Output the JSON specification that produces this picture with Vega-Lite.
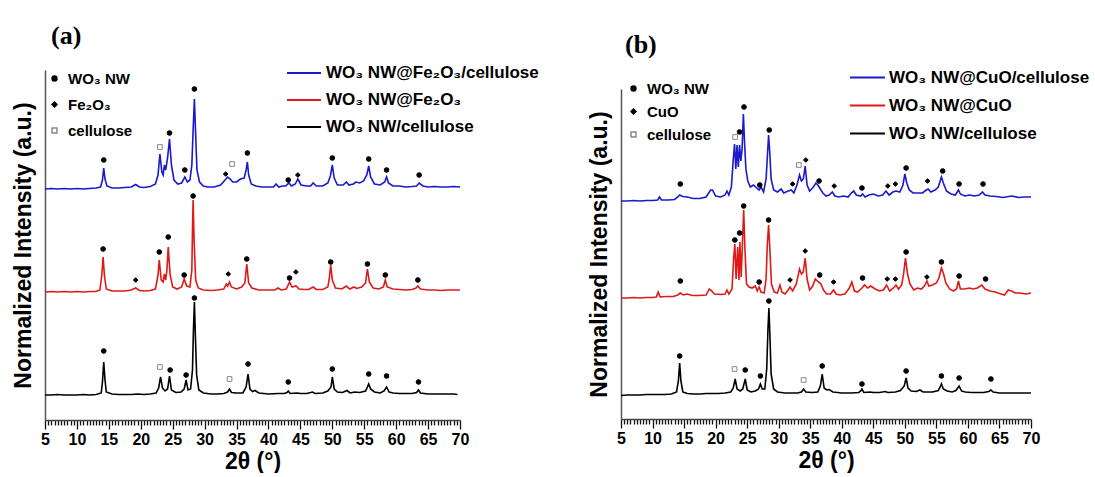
{
"$schema": "https://vega.github.io/schema/vega-lite/v6.json",
"padding": {"left": 12, "top": 23, "right": 0, "bottom": 0},
"spacing": 49,
"resolve": {"scale": {"x": "independent", "y": "independent", "color": "independent", "shape": "independent", "fill": "independent", "stroke": "independent"}, "legend": {"color": "independent", "shape": "independent", "fill": "independent", "stroke": "independent"}},
"config": {"view": {"stroke": null}, "font": "Liberation Sans", "axis": {"grid": false}},
"datasets": {
"a": [
{"s":"c","x":5,"y":231},{"s":"c","x":6,"y":231.5},{"s":"c","x":7,"y":231},{"s":"c","x":8,"y":231.5},{"s":"c","x":9,"y":231},{"s":"c","x":10,"y":231.5},{"s":"c","x":11,"y":231},{"s":"c","x":12,"y":231.5},{"s":"c","x":13,"y":232},{"s":"c","x":13.7,"y":233},{"s":"c","x":14.0,"y":240},{"s":"c","x":14.2,"y":252},{"s":"c","x":14.4,"y":241},{"s":"c","x":14.7,"y":234},{"s":"c","x":15.5,"y":232},{"s":"c","x":16.5,"y":232},{"s":"c","x":17.5,"y":232.5},{"s":"c","x":18.5,"y":233},{"s":"c","x":19.2,"y":235.5},{"s":"c","x":19.8,"y":233},{"s":"c","x":20.5,"y":232.5},{"s":"c","x":21.5,"y":233.5},{"s":"c","x":22.3,"y":236},{"s":"c","x":22.7,"y":245},{"s":"c","x":23.0,"y":266},{"s":"c","x":23.3,"y":248},{"s":"c","x":23.5,"y":245},{"s":"c","x":23.7,"y":255},{"s":"c","x":23.9,"y":250},{"s":"c","x":24.2,"y":262},{"s":"c","x":24.5,"y":281},{"s":"c","x":24.8,"y":255},{"s":"c","x":25.2,"y":240},{"s":"c","x":25.8,"y":236},{"s":"c","x":26.4,"y":237},{"s":"c","x":26.9,"y":243},{"s":"c","x":27.3,"y":238},{"s":"c","x":27.7,"y":240},{"s":"c","x":28.0,"y":255},{"s":"c","x":28.2,"y":290},{"s":"c","x":28.4,"y":321},{"s":"c","x":28.6,"y":285},{"s":"c","x":28.8,"y":250},{"s":"c","x":29.2,"y":238},{"s":"c","x":29.8,"y":234},{"s":"c","x":30.5,"y":233},{"s":"c","x":31.5,"y":233},{"s":"c","x":32.5,"y":235},{"s":"c","x":33.2,"y":240},{"s":"c","x":33.6,"y":243},{"s":"c","x":34.0,"y":241},{"s":"c","x":34.4,"y":238},{"s":"c","x":35.0,"y":238},{"s":"c","x":35.6,"y":241},{"s":"c","x":36.2,"y":242},{"s":"c","x":36.5,"y":250},{"s":"c","x":36.7,"y":258},{"s":"c","x":36.9,"y":245},{"s":"c","x":37.3,"y":236},{"s":"c","x":38,"y":234},{"s":"c","x":39,"y":233},{"s":"c","x":40,"y":233},{"s":"c","x":40.8,"y":233},{"s":"c","x":41.2,"y":236},{"s":"c","x":41.6,"y":233},{"s":"c","x":42.2,"y":234},{"s":"c","x":42.7,"y":234},{"s":"c","x":43.2,"y":237},{"s":"c","x":43.6,"y":234},{"s":"c","x":44.2,"y":236},{"s":"c","x":44.6,"y":241},{"s":"c","x":45.1,"y":235},{"s":"c","x":46,"y":234},{"s":"c","x":46.6,"y":234},{"s":"c","x":47.0,"y":237},{"s":"c","x":47.5,"y":234},{"s":"c","x":48.5,"y":234},{"s":"c","x":49.3,"y":237},{"s":"c","x":49.7,"y":244},{"s":"c","x":50.0,"y":255},{"s":"c","x":50.3,"y":242},{"s":"c","x":50.8,"y":235},{"s":"c","x":51.7,"y":235},{"s":"c","x":52.2,"y":238},{"s":"c","x":52.6,"y":235},{"s":"c","x":53.3,"y":236},{"s":"c","x":53.7,"y":238},{"s":"c","x":54.3,"y":237},{"s":"c","x":54.9,"y":239},{"s":"c","x":55.4,"y":245},{"s":"c","x":55.7,"y":254},{"s":"c","x":56.0,"y":243},{"s":"c","x":56.6,"y":236},{"s":"c","x":57.5,"y":235},{"s":"c","x":58.2,"y":238},{"s":"c","x":58.5,"y":243},{"s":"c","x":58.8,"y":237},{"s":"c","x":59.5,"y":234},{"s":"c","x":60.5,"y":234},{"s":"c","x":61.5,"y":233},{"s":"c","x":62.5,"y":233.5},{"s":"c","x":63.2,"y":234},{"s":"c","x":63.6,"y":237},{"s":"c","x":64.2,"y":234},{"s":"c","x":65,"y":233},{"s":"c","x":66,"y":233.5},{"s":"c","x":67,"y":233},{"s":"c","x":68,"y":233},{"s":"c","x":69,"y":233.5},{"s":"c","x":70,"y":233},
{"s":"f","x":5,"y":128},{"s":"f","x":6,"y":128.5},{"s":"f","x":7,"y":128},{"s":"f","x":8,"y":128.5},{"s":"f","x":9,"y":128},{"s":"f","x":10,"y":128.5},{"s":"f","x":11,"y":128},{"s":"f","x":12,"y":128.5},{"s":"f","x":13,"y":128.5},{"s":"f","x":13.6,"y":130},{"s":"f","x":13.9,"y":145},{"s":"f","x":14.1,"y":163},{"s":"f","x":14.3,"y":145},{"s":"f","x":14.6,"y":131},{"s":"f","x":15.5,"y":129},{"s":"f","x":16.5,"y":129},{"s":"f","x":17.5,"y":129},{"s":"f","x":18.5,"y":130},{"s":"f","x":19.2,"y":132},{"s":"f","x":19.8,"y":129.5},{"s":"f","x":20.5,"y":129},{"s":"f","x":21.5,"y":129.5},{"s":"f","x":22.3,"y":131},{"s":"f","x":22.7,"y":145},{"s":"f","x":22.9,"y":160},{"s":"f","x":23.2,"y":140},{"s":"f","x":23.5,"y":138},{"s":"f","x":23.7,"y":146},{"s":"f","x":23.9,"y":140},{"s":"f","x":24.1,"y":150},{"s":"f","x":24.3,"y":173},{"s":"f","x":24.6,"y":145},{"s":"f","x":25.0,"y":133},{"s":"f","x":25.7,"y":131},{"s":"f","x":26.4,"y":133},{"s":"f","x":26.8,"y":141},{"s":"f","x":27.2,"y":134},{"s":"f","x":27.7,"y":133},{"s":"f","x":28.0,"y":150},{"s":"f","x":28.1,"y":190},{"s":"f","x":28.2,"y":220},{"s":"f","x":28.35,"y":180},{"s":"f","x":28.6,"y":140},{"s":"f","x":29.0,"y":132},{"s":"f","x":29.8,"y":130},{"s":"f","x":31,"y":129.5},{"s":"f","x":32,"y":130},{"s":"f","x":33.0,"y":131},{"s":"f","x":33.4,"y":136},{"s":"f","x":33.6,"y":134},{"s":"f","x":33.9,"y":138},{"s":"f","x":34.2,"y":133},{"s":"f","x":35,"y":131},{"s":"f","x":35.8,"y":133},{"s":"f","x":36.3,"y":137},{"s":"f","x":36.6,"y":156},{"s":"f","x":36.9,"y":137},{"s":"f","x":37.4,"y":132},{"s":"f","x":38.5,"y":130},{"s":"f","x":40,"y":130},{"s":"f","x":41.0,"y":130},{"s":"f","x":41.5,"y":132},{"s":"f","x":42,"y":130},{"s":"f","x":42.8,"y":131},{"s":"f","x":43.3,"y":138},{"s":"f","x":43.7,"y":133},{"s":"f","x":44.3,"y":134},{"s":"f","x":44.8,"y":131},{"s":"f","x":45.5,"y":130.5},{"s":"f","x":46.3,"y":130.5},{"s":"f","x":47.0,"y":133},{"s":"f","x":47.5,"y":130.5},{"s":"f","x":48.5,"y":130.5},{"s":"f","x":49.3,"y":133},{"s":"f","x":49.5,"y":140},{"s":"f","x":49.75,"y":155},{"s":"f","x":50.0,"y":140},{"s":"f","x":50.5,"y":132},{"s":"f","x":51.5,"y":131},{"s":"f","x":52.2,"y":134},{"s":"f","x":52.7,"y":131},{"s":"f","x":53.4,"y":133},{"s":"f","x":53.8,"y":131.5},{"s":"f","x":54.6,"y":133},{"s":"f","x":55.2,"y":137},{"s":"f","x":55.5,"y":151},{"s":"f","x":55.8,"y":138},{"s":"f","x":56.4,"y":132},{"s":"f","x":57.3,"y":131},{"s":"f","x":58.0,"y":133},{"s":"f","x":58.3,"y":140},{"s":"f","x":58.6,"y":133},{"s":"f","x":59.5,"y":131},{"s":"f","x":60.5,"y":130.5},{"s":"f","x":61.5,"y":130},{"s":"f","x":62.5,"y":130.5},{"s":"f","x":63.1,"y":132},{"s":"f","x":63.4,"y":134},{"s":"f","x":63.8,"y":131},{"s":"f","x":65,"y":130},{"s":"f","x":66,"y":130},{"s":"f","x":67,"y":129.5},{"s":"f","x":68,"y":130},{"s":"f","x":69,"y":130},{"s":"f","x":70,"y":130},
{"s":"n","x":5,"y":25},{"s":"n","x":6,"y":25},{"s":"n","x":7,"y":25.5},{"s":"n","x":8,"y":25},{"s":"n","x":9,"y":25},{"s":"n","x":10,"y":25},{"s":"n","x":11,"y":25.5},{"s":"n","x":12,"y":25},{"s":"n","x":13,"y":25.5},{"s":"n","x":13.8,"y":27},{"s":"n","x":14.0,"y":38},{"s":"n","x":14.2,"y":58},{"s":"n","x":14.4,"y":40},{"s":"n","x":14.6,"y":28},{"s":"n","x":15.5,"y":26},{"s":"n","x":16.5,"y":25.5},{"s":"n","x":17.5,"y":25.5},{"s":"n","x":18.5,"y":25.5},{"s":"n","x":19.5,"y":26},{"s":"n","x":20.5,"y":25.5},{"s":"n","x":21.5,"y":26},{"s":"n","x":22.4,"y":27},{"s":"n","x":22.8,"y":32},{"s":"n","x":23.1,"y":43},{"s":"n","x":23.4,"y":32},{"s":"n","x":23.8,"y":29},{"s":"n","x":24.2,"y":31},{"s":"n","x":24.5,"y":44},{"s":"n","x":24.8,"y":30},{"s":"n","x":25.5,"y":27.5},{"s":"n","x":26.3,"y":28},{"s":"n","x":26.8,"y":31},{"s":"n","x":27.1,"y":40},{"s":"n","x":27.4,"y":30},{"s":"n","x":27.8,"y":31},{"s":"n","x":28.1,"y":50},{"s":"n","x":28.25,"y":90},{"s":"n","x":28.4,"y":118},{"s":"n","x":28.55,"y":85},{"s":"n","x":28.75,"y":45},{"s":"n","x":29.1,"y":30},{"s":"n","x":29.8,"y":27},{"s":"n","x":31,"y":26},{"s":"n","x":32,"y":26},{"s":"n","x":33,"y":26.5},{"s":"n","x":33.6,"y":28},{"s":"n","x":33.9,"y":31},{"s":"n","x":34.2,"y":27.5},{"s":"n","x":35,"y":27},{"s":"n","x":36,"y":27},{"s":"n","x":36.5,"y":33},{"s":"n","x":36.8,"y":46},{"s":"n","x":37.1,"y":31},{"s":"n","x":37.5,"y":28.5},{"s":"n","x":37.9,"y":29.5},{"s":"n","x":38.5,"y":27},{"s":"n","x":40,"y":26},{"s":"n","x":41.5,"y":26.5},{"s":"n","x":42.5,"y":26.5},{"s":"n","x":42.9,"y":27.5},{"s":"n","x":43.1,"y":29},{"s":"n","x":43.4,"y":26.5},{"s":"n","x":44.5,"y":27},{"s":"n","x":45,"y":26.5},{"s":"n","x":46,"y":26.5},{"s":"n","x":46.9,"y":28},{"s":"n","x":47.3,"y":26.5},{"s":"n","x":48.5,"y":27},{"s":"n","x":49.3,"y":29},{"s":"n","x":49.8,"y":33},{"s":"n","x":50.0,"y":43},{"s":"n","x":50.3,"y":31},{"s":"n","x":50.8,"y":28},{"s":"n","x":51.6,"y":27.5},{"s":"n","x":52.3,"y":29.5},{"s":"n","x":52.8,"y":27},{"s":"n","x":53.5,"y":28},{"s":"n","x":54.3,"y":27.5},{"s":"n","x":55.2,"y":29},{"s":"n","x":55.5,"y":33},{"s":"n","x":55.7,"y":36},{"s":"n","x":56.0,"y":31},{"s":"n","x":56.6,"y":28},{"s":"n","x":57.5,"y":27},{"s":"n","x":58.1,"y":29},{"s":"n","x":58.5,"y":33},{"s":"n","x":58.9,"y":28},{"s":"n","x":59.5,"y":27},{"s":"n","x":60.5,"y":26.5},{"s":"n","x":61.5,"y":26.5},{"s":"n","x":62.5,"y":26.5},{"s":"n","x":63.2,"y":27.5},{"s":"n","x":63.5,"y":30},{"s":"n","x":63.8,"y":27},{"s":"n","x":65,"y":26},{"s":"n","x":66,"y":26},{"s":"n","x":67,"y":26},{"s":"n","x":68,"y":26},{"s":"n","x":69,"y":26},{"s":"n","x":69.6,"y":25.5}
],
"am": [
{"p":"WO₃ NW","x":14.2,"y":260},{"p":"cellulose","x":23.0,"y":273},{"p":"WO₃ NW","x":24.5,"y":287},{"p":"WO₃ NW","x":26.9,"y":250},{"p":"WO₃ NW","x":28.4,"y":331},{"p":"Fe₂O₃","x":33.3,"y":246},{"p":"cellulose","x":34.3,"y":256},{"p":"WO₃ NW","x":36.7,"y":267},{"p":"WO₃ NW","x":43.1,"y":240},{"p":"Fe₂O₃","x":44.6,"y":245},{"p":"WO₃ NW","x":50.0,"y":262},{"p":"WO₃ NW","x":55.7,"y":261},{"p":"WO₃ NW","x":58.5,"y":250},{"p":"WO₃ NW","x":63.6,"y":245},
{"p":"WO₃ NW","x":14.1,"y":171},{"p":"Fe₂O₃","x":19.2,"y":140},{"p":"WO₃ NW","x":22.9,"y":168},{"p":"WO₃ NW","x":24.3,"y":183},{"p":"WO₃ NW","x":26.8,"y":145},{"p":"WO₃ NW","x":28.2,"y":224},{"p":"Fe₂O₃","x":33.7,"y":146},{"p":"WO₃ NW","x":36.6,"y":161},{"p":"WO₃ NW","x":43.3,"y":142},{"p":"Fe₂O₃","x":44.3,"y":148},{"p":"WO₃ NW","x":49.75,"y":158},{"p":"WO₃ NW","x":55.5,"y":156},{"p":"WO₃ NW","x":58.3,"y":145},{"p":"WO₃ NW","x":63.4,"y":140},
{"p":"WO₃ NW","x":14.2,"y":69},{"p":"cellulose","x":23.0,"y":53},{"p":"WO₃ NW","x":24.6,"y":50},{"p":"WO₃ NW","x":27.1,"y":45},{"p":"WO₃ NW","x":28.4,"y":122},{"p":"cellulose","x":33.9,"y":41},{"p":"WO₃ NW","x":36.8,"y":56},{"p":"WO₃ NW","x":43.1,"y":38},{"p":"WO₃ NW","x":50.0,"y":51},{"p":"WO₃ NW","x":55.7,"y":46},{"p":"WO₃ NW","x":58.5,"y":44},{"p":"WO₃ NW","x":63.5,"y":38}
],
"b": [
{"s":"c","x":5,"y":218},{"s":"c","x":6,"y":218},{"s":"c","x":7,"y":218.5},{"s":"c","x":8,"y":218},{"s":"c","x":9,"y":218.5},{"s":"c","x":10,"y":218.5},{"s":"c","x":10.8,"y":219},{"s":"c","x":11.1,"y":222},{"s":"c","x":11.4,"y":219},{"s":"c","x":12.5,"y":219},{"s":"c","x":13.5,"y":219.5},{"s":"c","x":14.0,"y":222},{"s":"c","x":14.3,"y":224},{"s":"c","x":14.8,"y":222.5},{"s":"c","x":15.5,"y":222},{"s":"c","x":16.5,"y":220.5},{"s":"c","x":17.5,"y":220.5},{"s":"c","x":18.5,"y":222},{"s":"c","x":19.2,"y":229},{"s":"c","x":19.5,"y":229},{"s":"c","x":20,"y":223},{"s":"c","x":20.8,"y":222},{"s":"c","x":21.5,"y":224},{"s":"c","x":21.8,"y":228},{"s":"c","x":22.1,"y":224},{"s":"c","x":22.5,"y":232},{"s":"c","x":22.8,"y":260},{"s":"c","x":23.0,"y":275},{"s":"c","x":23.2,"y":250},{"s":"c","x":23.4,"y":274},{"s":"c","x":23.6,"y":252},{"s":"c","x":23.8,"y":274},{"s":"c","x":24.0,"y":258},{"s":"c","x":24.2,"y":270},{"s":"c","x":24.4,"y":305},{"s":"c","x":24.6,"y":275},{"s":"c","x":24.8,"y":250},{"s":"c","x":25.1,"y":238},{"s":"c","x":25.5,"y":232},{"s":"c","x":26.0,"y":234},{"s":"c","x":26.5,"y":231},{"s":"c","x":26.9,"y":229},{"s":"c","x":27.2,"y":232},{"s":"c","x":27.6,"y":227},{"s":"c","x":28.0,"y":240},{"s":"c","x":28.2,"y":262},{"s":"c","x":28.4,"y":284},{"s":"c","x":28.6,"y":265},{"s":"c","x":28.8,"y":240},{"s":"c","x":29.2,"y":229},{"s":"c","x":29.8,"y":227},{"s":"c","x":30.4,"y":230},{"s":"c","x":30.8,"y":226},{"s":"c","x":31.5,"y":228},{"s":"c","x":32.0,"y":229},{"s":"c","x":32.4,"y":226},{"s":"c","x":32.9,"y":234},{"s":"c","x":33.3,"y":244},{"s":"c","x":33.6,"y":238},{"s":"c","x":33.9,"y":240},{"s":"c","x":34.2,"y":253},{"s":"c","x":34.5,"y":234},{"s":"c","x":34.9,"y":228},{"s":"c","x":35.5,"y":232},{"s":"c","x":35.9,"y":236},{"s":"c","x":36.2,"y":234},{"s":"c","x":36.5,"y":231},{"s":"c","x":37.0,"y":226},{"s":"c","x":37.5,"y":223},{"s":"c","x":38.0,"y":224},{"s":"c","x":38.5,"y":227},{"s":"c","x":38.9,"y":223},{"s":"c","x":39.5,"y":222},{"s":"c","x":40.3,"y":223},{"s":"c","x":41.0,"y":222},{"s":"c","x":41.5,"y":226},{"s":"c","x":41.9,"y":228},{"s":"c","x":42.3,"y":224},{"s":"c","x":43.0,"y":223},{"s":"c","x":43.3,"y":225},{"s":"c","x":43.7,"y":222},{"s":"c","x":44.3,"y":224},{"s":"c","x":45.0,"y":225},{"s":"c","x":45.8,"y":223},{"s":"c","x":46.5,"y":224},{"s":"c","x":47.0,"y":228},{"s":"c","x":47.5,"y":224},{"s":"c","x":48.1,"y":227},{"s":"c","x":48.6,"y":228},{"s":"c","x":49.2,"y":227},{"s":"c","x":49.7,"y":234},{"s":"c","x":50.0,"y":245},{"s":"c","x":50.3,"y":236},{"s":"c","x":50.7,"y":229},{"s":"c","x":51.3,"y":226},{"s":"c","x":52,"y":226},{"s":"c","x":52.8,"y":226},{"s":"c","x":53.4,"y":229},{"s":"c","x":53.7,"y":230},{"s":"c","x":54.1,"y":227},{"s":"c","x":54.8,"y":229},{"s":"c","x":55.3,"y":232},{"s":"c","x":55.8,"y":242},{"s":"c","x":56.1,"y":236},{"s":"c","x":56.6,"y":228},{"s":"c","x":57.3,"y":225},{"s":"c","x":58.0,"y":224},{"s":"c","x":58.5,"y":229},{"s":"c","x":58.8,"y":225},{"s":"c","x":59.5,"y":223},{"s":"c","x":60.3,"y":224},{"s":"c","x":61.0,"y":223},{"s":"c","x":61.8,"y":224},{"s":"c","x":62.3,"y":227},{"s":"c","x":62.7,"y":224},{"s":"c","x":63.5,"y":223},{"s":"c","x":64.5,"y":222.5},{"s":"c","x":65.5,"y":221.5},{"s":"c","x":66.5,"y":222.5},{"s":"c","x":67,"y":223},{"s":"c","x":68,"y":221.5},{"s":"c","x":69,"y":222},{"s":"c","x":70,"y":222},
{"s":"f","x":5,"y":121},{"s":"f","x":6,"y":121},{"s":"f","x":7,"y":121.5},{"s":"f","x":8,"y":121},{"s":"f","x":9,"y":121.5},{"s":"f","x":10,"y":121.5},{"s":"f","x":10.6,"y":122},{"s":"f","x":10.9,"y":127},{"s":"f","x":11.2,"y":122},{"s":"f","x":12.2,"y":122.5},{"s":"f","x":13.3,"y":122.5},{"s":"f","x":14.0,"y":124},{"s":"f","x":14.4,"y":126},{"s":"f","x":14.9,"y":124},{"s":"f","x":15.5,"y":125},{"s":"f","x":16.3,"y":123.5},{"s":"f","x":17.3,"y":123.5},{"s":"f","x":18.5,"y":124},{"s":"f","x":19.0,"y":130},{"s":"f","x":19.4,"y":128},{"s":"f","x":19.8,"y":125},{"s":"f","x":20.8,"y":124.5},{"s":"f","x":21.5,"y":125},{"s":"f","x":21.8,"y":129},{"s":"f","x":22.1,"y":125},{"s":"f","x":22.6,"y":130},{"s":"f","x":22.85,"y":160},{"s":"f","x":23.05,"y":175},{"s":"f","x":23.25,"y":140},{"s":"f","x":23.5,"y":172},{"s":"f","x":23.7,"y":139},{"s":"f","x":23.85,"y":177},{"s":"f","x":24.05,"y":142},{"s":"f","x":24.25,"y":175},{"s":"f","x":24.45,"y":209},{"s":"f","x":24.65,"y":170},{"s":"f","x":24.9,"y":135},{"s":"f","x":25.3,"y":132},{"s":"f","x":25.8,"y":131},{"s":"f","x":26.3,"y":133},{"s":"f","x":26.6,"y":128},{"s":"f","x":26.9,"y":132},{"s":"f","x":27.2,"y":127},{"s":"f","x":27.7,"y":126},{"s":"f","x":28.0,"y":140},{"s":"f","x":28.2,"y":175},{"s":"f","x":28.4,"y":194},{"s":"f","x":28.6,"y":170},{"s":"f","x":28.85,"y":135},{"s":"f","x":29.3,"y":127},{"s":"f","x":29.8,"y":126},{"s":"f","x":30.2,"y":134},{"s":"f","x":30.5,"y":127},{"s":"f","x":31.0,"y":125},{"s":"f","x":31.5,"y":129},{"s":"f","x":31.8,"y":132},{"s":"f","x":32.2,"y":128},{"s":"f","x":32.8,"y":135},{"s":"f","x":33.3,"y":150},{"s":"f","x":33.6,"y":145},{"s":"f","x":33.9,"y":147},{"s":"f","x":34.2,"y":161},{"s":"f","x":34.5,"y":140},{"s":"f","x":34.9,"y":129},{"s":"f","x":35.4,"y":133},{"s":"f","x":35.8,"y":140},{"s":"f","x":36.3,"y":137},{"s":"f","x":36.7,"y":135},{"s":"f","x":37.1,"y":129},{"s":"f","x":37.6,"y":125},{"s":"f","x":38.2,"y":125},{"s":"f","x":38.7,"y":129},{"s":"f","x":39.1,"y":125},{"s":"f","x":39.7,"y":124},{"s":"f","x":40.5,"y":125},{"s":"f","x":41.2,"y":131},{"s":"f","x":41.6,"y":137},{"s":"f","x":42.0,"y":128},{"s":"f","x":42.5,"y":127},{"s":"f","x":43.2,"y":131},{"s":"f","x":43.6,"y":134},{"s":"f","x":44.1,"y":131},{"s":"f","x":44.6,"y":133},{"s":"f","x":45.3,"y":130},{"s":"f","x":46.0,"y":128},{"s":"f","x":46.6,"y":129},{"s":"f","x":47.1,"y":134},{"s":"f","x":47.6,"y":128},{"s":"f","x":48.2,"y":131},{"s":"f","x":48.6,"y":134},{"s":"f","x":49.0,"y":130},{"s":"f","x":49.5,"y":134},{"s":"f","x":49.8,"y":145},{"s":"f","x":50.1,"y":161},{"s":"f","x":50.4,"y":146},{"s":"f","x":50.8,"y":135},{"s":"f","x":51.4,"y":129},{"s":"f","x":52,"y":131},{"s":"f","x":52.6,"y":130},{"s":"f","x":53.1,"y":133},{"s":"f","x":53.5,"y":138},{"s":"f","x":53.8,"y":133},{"s":"f","x":54.4,"y":134},{"s":"f","x":55.0,"y":136},{"s":"f","x":55.4,"y":141},{"s":"f","x":55.8,"y":151},{"s":"f","x":56.1,"y":146},{"s":"f","x":56.5,"y":136},{"s":"f","x":57.1,"y":130},{"s":"f","x":57.7,"y":128},{"s":"f","x":58.2,"y":130},{"s":"f","x":58.5,"y":138},{"s":"f","x":58.8,"y":130},{"s":"f","x":59.5,"y":130},{"s":"f","x":60.2,"y":131},{"s":"f","x":60.8,"y":130},{"s":"f","x":61.5,"y":131},{"s":"f","x":62.2,"y":134},{"s":"f","x":62.7,"y":130},{"s":"f","x":63.5,"y":128},{"s":"f","x":64.3,"y":127},{"s":"f","x":65,"y":125.5},{"s":"f","x":65.8,"y":124},{"s":"f","x":66.4,"y":129},{"s":"f","x":66.9,"y":128},{"s":"f","x":67.5,"y":126},{"s":"f","x":68.3,"y":126},{"s":"f","x":69.2,"y":125},{"s":"f","x":70,"y":126},
{"s":"n","x":5,"y":23.5},{"s":"n","x":6,"y":24},{"s":"n","x":7,"y":24},{"s":"n","x":8,"y":24},{"s":"n","x":9,"y":24.5},{"s":"n","x":10,"y":24.5},{"s":"n","x":11,"y":24.5},{"s":"n","x":12,"y":24.5},{"s":"n","x":13,"y":25},{"s":"n","x":13.8,"y":27},{"s":"n","x":14.1,"y":38},{"s":"n","x":14.3,"y":56},{"s":"n","x":14.5,"y":38},{"s":"n","x":14.8,"y":27},{"s":"n","x":15.5,"y":25.5},{"s":"n","x":16.5,"y":25},{"s":"n","x":17.5,"y":25},{"s":"n","x":18.5,"y":25.5},{"s":"n","x":19.5,"y":25.5},{"s":"n","x":20.5,"y":25.5},{"s":"n","x":21.5,"y":26},{"s":"n","x":22.4,"y":27},{"s":"n","x":22.8,"y":31},{"s":"n","x":23.1,"y":40},{"s":"n","x":23.4,"y":30},{"s":"n","x":23.9,"y":28},{"s":"n","x":24.3,"y":30},{"s":"n","x":24.7,"y":40},{"s":"n","x":25.0,"y":29},{"s":"n","x":25.6,"y":27},{"s":"n","x":26.3,"y":28},{"s":"n","x":26.8,"y":30},{"s":"n","x":27.1,"y":35},{"s":"n","x":27.4,"y":30},{"s":"n","x":27.8,"y":30},{"s":"n","x":28.1,"y":50},{"s":"n","x":28.3,"y":90},{"s":"n","x":28.45,"y":111},{"s":"n","x":28.6,"y":85},{"s":"n","x":28.8,"y":45},{"s":"n","x":29.2,"y":30},{"s":"n","x":29.8,"y":27},{"s":"n","x":31,"y":26},{"s":"n","x":32,"y":26},{"s":"n","x":33,"y":26},{"s":"n","x":33.6,"y":27},{"s":"n","x":33.95,"y":30},{"s":"n","x":34.3,"y":27},{"s":"n","x":35.3,"y":26.5},{"s":"n","x":36.2,"y":27},{"s":"n","x":36.6,"y":33},{"s":"n","x":36.9,"y":45},{"s":"n","x":37.2,"y":31},{"s":"n","x":37.6,"y":29},{"s":"n","x":38,"y":29.5},{"s":"n","x":38.6,"y":27},{"s":"n","x":40,"y":26},{"s":"n","x":41.5,"y":26},{"s":"n","x":42.7,"y":26.5},{"s":"n","x":43.0,"y":28},{"s":"n","x":43.2,"y":30},{"s":"n","x":43.5,"y":26.5},{"s":"n","x":44.5,"y":27},{"s":"n","x":45,"y":26.5},{"s":"n","x":46,"y":26.5},{"s":"n","x":46.9,"y":27.5},{"s":"n","x":47.3,"y":26.5},{"s":"n","x":48.5,"y":27},{"s":"n","x":49.3,"y":28.5},{"s":"n","x":49.9,"y":33},{"s":"n","x":50.2,"y":41},{"s":"n","x":50.5,"y":31},{"s":"n","x":51,"y":28},{"s":"n","x":51.8,"y":27.5},{"s":"n","x":52.4,"y":29},{"s":"n","x":52.9,"y":27},{"s":"n","x":53.5,"y":27},{"s":"n","x":54.4,"y":27},{"s":"n","x":55.3,"y":28.5},{"s":"n","x":55.6,"y":32},{"s":"n","x":55.8,"y":35},{"s":"n","x":56.1,"y":30},{"s":"n","x":56.7,"y":28},{"s":"n","x":57.5,"y":27},{"s":"n","x":58.1,"y":28.5},{"s":"n","x":58.6,"y":33},{"s":"n","x":59.0,"y":28},{"s":"n","x":59.6,"y":27},{"s":"n","x":60.5,"y":26.5},{"s":"n","x":61.5,"y":26.5},{"s":"n","x":62.5,"y":26.5},{"s":"n","x":63.3,"y":27.5},{"s":"n","x":63.65,"y":29},{"s":"n","x":64,"y":27},{"s":"n","x":65,"y":26},{"s":"n","x":66,"y":26},{"s":"n","x":67,"y":26},{"s":"n","x":68,"y":26},{"s":"n","x":69,"y":26},{"s":"n","x":70,"y":26}
],
"bm": [
{"p":"WO₃ NW","x":14.4,"y":235},{"p":"cellulose","x":23.1,"y":282},{"p":"WO₃ NW","x":23.8,"y":287},{"p":"WO₃ NW","x":24.5,"y":312},{"p":"WO₃ NW","x":27.0,"y":234},{"p":"WO₃ NW","x":28.5,"y":289},{"p":"CuO","x":32.2,"y":235},{"p":"cellulose","x":33.2,"y":254},{"p":"CuO","x":34.3,"y":259},{"p":"WO₃ NW","x":36.4,"y":238},{"p":"CuO","x":38.8,"y":233},{"p":"WO₃ NW","x":43.2,"y":231},{"p":"CuO","x":47.3,"y":233},{"p":"CuO","x":48.5,"y":235},{"p":"WO₃ NW","x":50.2,"y":251},{"p":"CuO","x":53.6,"y":238},{"p":"WO₃ NW","x":56.0,"y":248},{"p":"WO₃ NW","x":58.6,"y":235},{"p":"WO₃ NW","x":62.4,"y":235},
{"p":"WO₃ NW","x":14.4,"y":138},{"p":"WO₃ NW","x":23.05,"y":179},{"p":"WO₃ NW","x":23.8,"y":186},{"p":"WO₃ NW","x":24.45,"y":213},{"p":"WO₃ NW","x":26.9,"y":137},{"p":"WO₃ NW","x":28.4,"y":199},{"p":"CuO","x":31.8,"y":139},{"p":"CuO","x":34.2,"y":168},{"p":"WO₃ NW","x":36.5,"y":144},{"p":"CuO","x":38.7,"y":137},{"p":"WO₃ NW","x":43.3,"y":141},{"p":"CuO","x":47.2,"y":140},{"p":"CuO","x":48.5,"y":140},{"p":"WO₃ NW","x":50.2,"y":167},{"p":"CuO","x":53.5,"y":142},{"p":"WO₃ NW","x":55.8,"y":157},{"p":"WO₃ NW","x":58.6,"y":143},{"p":"WO₃ NW","x":62.8,"y":140},
{"p":"WO₃ NW","x":14.3,"y":63},{"p":"cellulose","x":23.0,"y":50},{"p":"WO₃ NW","x":24.7,"y":49},{"p":"WO₃ NW","x":27.1,"y":43},{"p":"WO₃ NW","x":28.45,"y":118},{"p":"cellulose","x":33.95,"y":39},{"p":"WO₃ NW","x":36.9,"y":53},{"p":"WO₃ NW","x":43.2,"y":35},{"p":"WO₃ NW","x":50.2,"y":48},{"p":"WO₃ NW","x":55.8,"y":43},{"p":"WO₃ NW","x":58.6,"y":41},{"p":"WO₃ NW","x":63.65,"y":40}
]
},
"hconcat": [
{
"width": 415, "height": 350,
"title": {"text": "(a)", "anchor": "start", "frame": "group", "offset": 6, "dx": 6, "font": "Liberation Serif", "fontSize": 26, "fontWeight": "bold", "color": "#000"},
"encoding": {
  "x": {"field": "x", "type": "quantitative", "scale": {"domain": [5, 70], "nice": false},
   "axis": {"values": [5,5.5,6,6.5,7,7.5,8,8.5,9,9.5,10,10.5,11,11.5,12,12.5,13,13.5,14,14.5,15,15.5,16,16.5,17,17.5,18,18.5,19,19.5,20,20.5,21,21.5,22,22.5,23,23.5,24,24.5,25,25.5,26,26.5,27,27.5,28,28.5,29,29.5,30,30.5,31,31.5,32,32.5,33,33.5,34,34.5,35,35.5,36,36.5,37,37.5,38,38.5,39,39.5,40,40.5,41,41.5,42,42.5,43,43.5,44,44.5,45,45.5,46,46.5,47,47.5,48,48.5,49,49.5,50,50.5,51,51.5,52,52.5,53,53.5,54,54.5,55,55.5,56,56.5,57,57.5,58,58.5,59,59.5,60,60.5,61,61.5,62,62.5,63,63.5,64,64.5,65,65.5,66,66.5,67,67.5,68,68.5,69,69.5,70],
    "labelExpr": "datum.value % 5 === 0 ? '' + datum.value : ''", "labelFlush": false, "labelOverlap": false,
    "tickSize": {"condition": {"test": "datum.value % 5 === 0", "value": 9}, "value": 5},
    "tickColor": "#111", "tickWidth": 1.3, "domainColor": "#444", "domainWidth": 1.5,
    "labelFontSize": 16, "labelFontWeight": "bold", "labelColor": "#000", "labelPadding": 2,
    "title": "2θ (°)", "titleFontSize": 23, "titleFontWeight": "bold", "titleColor": "#000", "titlePadding": 3}},
  "y": {"field": "y", "type": "quantitative", "scale": {"domain": [0, 350], "nice": false},
   "axis": {"ticks": false, "labels": false, "domainColor": "#555", "domainWidth": 1.5,
    "title": "Normalized Intensity (a.u.)", "titleFontSize": 23, "titleFontWeight": "bold", "titleColor": "#000", "titlePadding": 10}}
},
"layer": [
{"data": {"name": "a"}, "mark": {"type": "line", "strokeWidth": 1.6},
 "encoding": {
  "color": {"field": "s", "type": "nominal", "scale": {"domain": ["c", "f", "n"], "range": ["#1a1acc", "#e01818", "#000000"]},
   "legend": {"orient": "none", "legendX": 241, "legendY": -15, "title": null, "symbolType": "stroke", "symbolSize": 1156, "symbolStrokeWidth": 1.8, "labelFontSize": 17, "labelFontWeight": "bold", "labelColor": "#000", "labelLimit": 400, "rowPadding": 1, "labelOffset": 4,
    "labelExpr": "datum.label == 'c' ? 'WO₃ NW@Fe₂O₃/cellulose' : datum.label == 'f' ? 'WO₃ NW@Fe₂O₃' : 'WO₃ NW/cellulose'"}}
 }},
{"data": {"name": "am"}, "mark": {"type": "point", "size": 22, "opacity": 1, "strokeWidth": 1},
 "encoding": {
  "shape": {"field": "p", "type": "nominal", "scale": {"domain": ["WO₃ NW", "Fe₂O₃", "cellulose"], "range": ["circle", "diamond", "square"]},
   "legend": {"orient": "none", "legendX": 2, "legendY": 1, "title": null, "labelFontSize": 15, "labelFontWeight": "bold", "labelColor": "#000", "rowPadding": 10, "symbolSize": 24, "labelOffset": 6}},
  "fill": {"field": "p", "type": "nominal", "scale": {"domain": ["WO₃ NW", "Fe₂O₃", "cellulose"], "range": ["#000000", "#000000", "transparent"]},
   "legend": {"orient": "none", "legendX": 2, "legendY": 1, "title": null, "labelFontSize": 15, "labelFontWeight": "bold", "labelColor": "#000", "rowPadding": 10, "symbolSize": 24, "labelOffset": 6}},
  "stroke": {"field": "p", "type": "nominal", "scale": {"domain": ["WO₃ NW", "Fe₂O₃", "cellulose"], "range": ["#000000", "#000000", "#888888"]},
   "legend": {"orient": "none", "legendX": 2, "legendY": 1, "title": null, "labelFontSize": 15, "labelFontWeight": "bold", "labelColor": "#000", "rowPadding": 10, "symbolSize": 24, "labelOffset": 6}}
 }}
]
},
{
"width": 410, "height": 349,
"title": {"text": "(b)", "anchor": "start", "frame": "group", "offset": 1, "dx": 4, "font": "Liberation Serif", "fontSize": 26, "fontWeight": "bold", "color": "#000"},
"encoding": {
  "x": {"field": "x", "type": "quantitative", "scale": {"domain": [5, 70], "nice": false},
   "axis": {"values": [5,5.5,6,6.5,7,7.5,8,8.5,9,9.5,10,10.5,11,11.5,12,12.5,13,13.5,14,14.5,15,15.5,16,16.5,17,17.5,18,18.5,19,19.5,20,20.5,21,21.5,22,22.5,23,23.5,24,24.5,25,25.5,26,26.5,27,27.5,28,28.5,29,29.5,30,30.5,31,31.5,32,32.5,33,33.5,34,34.5,35,35.5,36,36.5,37,37.5,38,38.5,39,39.5,40,40.5,41,41.5,42,42.5,43,43.5,44,44.5,45,45.5,46,46.5,47,47.5,48,48.5,49,49.5,50,50.5,51,51.5,52,52.5,53,53.5,54,54.5,55,55.5,56,56.5,57,57.5,58,58.5,59,59.5,60,60.5,61,61.5,62,62.5,63,63.5,64,64.5,65,65.5,66,66.5,67,67.5,68,68.5,69,69.5,70],
    "labelExpr": "datum.value % 5 === 0 ? '' + datum.value : ''", "labelFlush": false, "labelOverlap": false,
    "tickSize": {"condition": {"test": "datum.value % 5 === 0", "value": 9}, "value": 5},
    "tickColor": "#111", "tickWidth": 1.3, "domainColor": "#444", "domainWidth": 1.5,
    "labelFontSize": 16, "labelFontWeight": "bold", "labelColor": "#000", "labelPadding": 2,
    "title": "2θ (°)", "titleFontSize": 23, "titleFontWeight": "bold", "titleColor": "#000", "titlePadding": 3}},
  "y": {"field": "y", "type": "quantitative", "scale": {"domain": [0, 330], "nice": false, "range": [349, 19]},
   "axis": {"ticks": false, "labels": false, "domainColor": "#555", "domainWidth": 1.5,
    "title": "Normalized Intensity (a.u.)", "titleFontSize": 23, "titleFontWeight": "bold", "titleColor": "#000", "titlePadding": 10}}
},
"layer": [
{"data": {"name": "b"}, "mark": {"type": "line", "strokeWidth": 1.6},
 "encoding": {
  "color": {"field": "s", "type": "nominal", "scale": {"domain": ["c", "f", "n"], "range": ["#1a1acc", "#e01818", "#000000"]},
   "legend": {"orient": "none", "legendX": 228, "legendY": -11, "title": null, "symbolType": "stroke", "symbolSize": 1225, "symbolStrokeWidth": 1.8, "labelFontSize": 17, "labelFontWeight": "bold", "labelColor": "#000", "labelLimit": 400, "rowPadding": 1, "labelOffset": 3,
    "labelExpr": "datum.label == 'c' ? 'WO₃ NW@CuO/cellulose' : datum.label == 'f' ? 'WO₃ NW@CuO' : 'WO₃ NW/cellulose'"}}
 }},
{"data": {"name": "bm"}, "mark": {"type": "point", "size": 22, "opacity": 1, "strokeWidth": 1},
 "encoding": {
  "shape": {"field": "p", "type": "nominal", "scale": {"domain": ["WO₃ NW", "CuO", "cellulose"], "range": ["circle", "diamond", "square"]},
   "legend": {"orient": "none", "legendX": 5, "legendY": 11, "title": null, "labelFontSize": 15, "labelFontWeight": "bold", "labelColor": "#000", "rowPadding": 7, "symbolSize": 24, "labelOffset": 6}},
  "fill": {"field": "p", "type": "nominal", "scale": {"domain": ["WO₃ NW", "CuO", "cellulose"], "range": ["#000000", "#000000", "transparent"]},
   "legend": {"orient": "none", "legendX": 5, "legendY": 11, "title": null, "labelFontSize": 15, "labelFontWeight": "bold", "labelColor": "#000", "rowPadding": 7, "symbolSize": 24, "labelOffset": 6}},
  "stroke": {"field": "p", "type": "nominal", "scale": {"domain": ["WO₃ NW", "CuO", "cellulose"], "range": ["#000000", "#000000", "#888888"]},
   "legend": {"orient": "none", "legendX": 5, "legendY": 11, "title": null, "labelFontSize": 15, "labelFontWeight": "bold", "labelColor": "#000", "rowPadding": 7, "symbolSize": 24, "labelOffset": 6}}
 }}
]
}
]
}
